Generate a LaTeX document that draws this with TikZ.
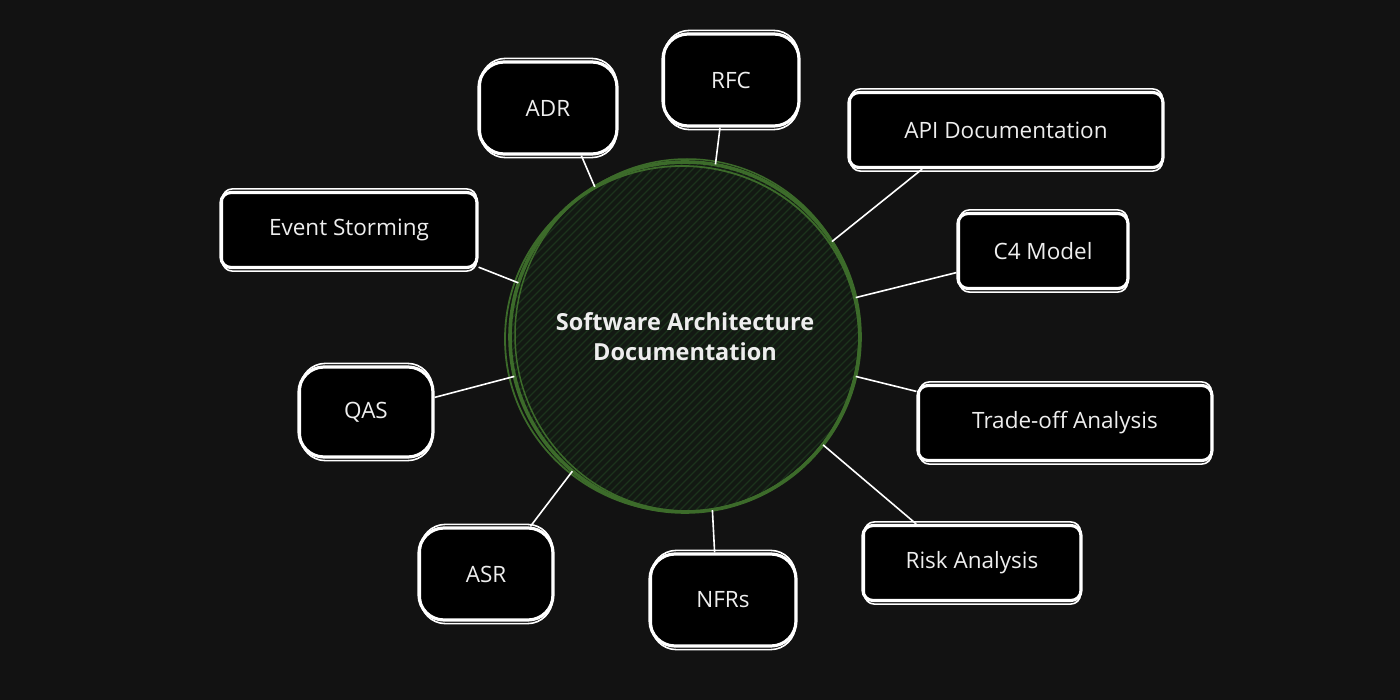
\documentclass[tikz,border=0pt]{standalone}
\usepackage{fontspec}
\setmainfont{Open Sans}
\usetikzlibrary{calc}
\definecolor{bg}{HTML}{121212}
\definecolor{cfill}{HTML}{131913}
\definecolor{hatch}{HTML}{1C331C}
\definecolor{cline}{HTML}{3C6B2A}
\definecolor{txt}{HTML}{EEEEEE}
\begin{document}
\begin{tikzpicture}[x=1pt,y=-1pt,
  box/.style={draw=white, line width=3.2, fill=black, text=txt, font=\fontsize{22.5}{27}\selectfont, inner sep=0pt, rounded corners=#1},
  box/.default=10,
  tall/.style={box=25, minimum height=92},
  wide/.style={box=10, minimum height=75},
  link/.style={draw=white, line width=1.6}]
\fill[bg] (0,0) rectangle (1400,700);
\useasboundingbox (0,0) rectangle (1400,700);

% central circle
\node[circle, fill=cfill, minimum size=350, inner sep=0pt] (c) at (685,337) {};
\begin{scope}
  \clip (c.center) circle (174);
  \foreach \i in {-560,-552,...,560}
    \draw[hatch, line width=1.1] ($(c.center)+(\i-220,220)$) -- ($(c.center)+(\i+220,-220)$);
\end{scope}
\draw[cline, line width=3.6] (c.center) circle (175);
\draw[cline, line width=1.8] ($(c.center)+(-3,2)$) ellipse (177 and 173);
\draw[cline, line width=1.5] ($(c.center)+(2,-2)$) ellipse (172 and 176);
\node[text=txt, font=\bfseries\fontsize{23.5}{30}\selectfont, align=center] (clabel) at ($(c.center)+(0,0)$) {Software Architecture\\Documentation};

% boxes
\node[tall, minimum width=138] (adr) at (548,108) {ADR};
\node[tall, minimum width=136] (rfc) at (731,80) {RFC};
\node[wide, minimum width=314] (api) at (1006,130) {API Documentation};
\node[wide, minimum width=170] (c4) at (1043,251) {C4 Model};
\node[wide, minimum width=294] (trade) at (1065,423) {Trade-off Analysis};
\node[wide, minimum width=218] (risk) at (972,563) {Risk Analysis};
\node[tall, minimum width=146] (nfr) at (723,600) {NFRs};
\node[tall, minimum width=134] (asr) at (486,574) {ASR};
\node[tall, minimum width=134, minimum height=90] (qas) at (366,412) {QAS};
\node[wide, minimum width=256] (es) at (349,230) {Event Storming};

% sketchy second strokes
\foreach \n/\r in {adr/25,rfc/25,nfr/25,asr/25,qas/25,api/10,c4/10,trade/10,risk/10,es/10}
  \draw[white, line width=1.6, rounded corners=\r] ($(\n.south west)+(3,2)$) rectangle ($(\n.north east)+(-2,-2)$);

% connectors
\draw[link] (c.121) -- (adr.-55);
\draw[link] (c.80) -- (rfc.-103);
\draw[link] (c.33) -- (api.-155);
\draw[link] (c.13) -- (c4.-166);
\draw[link] (c.-13) -- (trade.168);
\draw[link] (c.-38) -- (risk.145.6);
\draw[link] (c.-81) -- (nfr.100);
\draw[link] (c.-130) -- (asr.47.6);
\draw[link] (c.-167) -- (qas.12);
\draw[link] (c.162) -- (es.-16);
\end{tikzpicture}
\end{document}
